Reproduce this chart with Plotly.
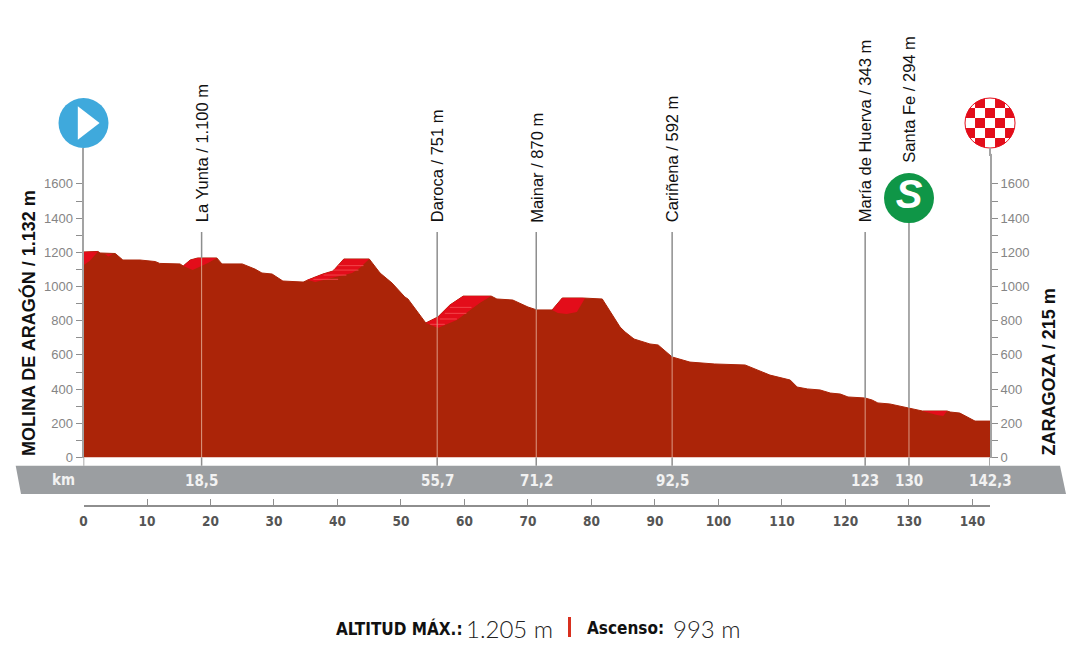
import plotly.graph_objects as go

# profile
profile_km = [0, 2.3, 2.6, 5.0, 6.2, 8.9, 11.3, 12.0, 15.2, 15.7, 16.8, 18.0, 21.0, 21.8, 25.0, 27.0, 28.1, 29.7,
              31.4, 34.6, 36.1, 37.7, 39.3, 41.0, 45.0, 46.7, 48.6, 50.6, 51.1, 53.9, 55.8, 57.7, 59.8, 64.2, 65.1,
              67.6, 70.0, 71.4, 73.8, 75.4, 78.5, 81.7, 84.5, 85.3, 86.7, 89.2, 90.5, 91.9, 92.7, 95.5, 99.4, 104.2,
              105.7, 108.1, 111.3, 112.4, 114.0, 116.0, 117.6, 119.2, 120.4, 123.1, 124.2, 125.1, 127.0, 128.6,
              130.2, 132.1, 136.0, 136.5, 138.0, 139.1, 140.4, 142.76]
profile_elev = [1202, 1205, 1196, 1193, 1155, 1155, 1146, 1135, 1132, 1120, 1155, 1167, 1167, 1132, 1132, 1102, 1079,
                1073, 1032, 1026, 1050, 1073, 1091, 1161, 1161, 1079, 1020, 939, 927, 787, 822, 892, 944, 944, 927,
                921, 880, 863, 863, 933, 933, 927, 763, 734, 693, 664, 658, 617, 588, 558, 547, 541, 518, 482, 453,
                412, 401, 395, 377, 371, 354, 348, 336, 319, 313, 301, 289, 272, 272, 266, 260, 237, 213, 213]

# bright red climb patches
climbs_km = [
    [0, 2.3, 1.0, 0],
    [3.4, 4.6, 3.9],
    [15.7, 16.8, 18.0, 21.0, 19.6, 17.2],
    [35.2, 36.1, 37.7, 39.3, 41.0, 45.0, 43.5, 42.3, 36.5],
    [53.9, 55.8, 57.7, 59.8, 64.2, 62.4, 58.8, 55.8],
    [73.8, 75.4, 79.0, 77.7, 76.1, 74.7],
    [132.1, 136.0, 135.4, 134.4],
]
climbs_elev = [
    [1202, 1205, 1150, 1125],
    [1190, 1190, 1175],
    [1120, 1155, 1167, 1167, 1137, 1096],
    [1040, 1050, 1073, 1091, 1161, 1161, 1108, 1079, 1026],
    [787, 822, 892, 944, 944, 904, 804, 757],
    [863, 933, 933, 851, 839, 845],
    [272, 272, 243, 249],
]
stripe_km = [40.1, 44.1, None, 39.3, 43.3, None, 37.8, 41.4, None, 36.2, 40.1, None,
             57.7, 61.1, None, 56.9, 60.3, None, 56.1, 58.8, None, 54.6, 56.9]
stripe_elev = [1122, 1122, None, 1096, 1096, None, 1067, 1067, None, 1042, 1042, None,
               878, 878, None, 843, 843, None, 810, 810, None, 779, 779]

# intermediate points
pass_km = [18.6, 55.7, 71.3, 92.7, 123.1, 130.0]
pass_elev = [1167, 822, 863, 588, 348, 289]
pass_top = [1319, 1319, 1319, 1319, 1319, 1500]
pass_names = ["La Yunta / 1.100 m", "Daroca / 751 m", "Mainar / 870 m", "Cariñena / 592 m",
              "María de Huerva / 343 m", "Santa Fe / 294 m"]
name_elev = [1362, 1362, 1362, 1362, 1362, 1715]

finish_km = 142.76
band_km = [18.6, 55.7, 71.3, 92.7, 123.1, 130.0, finish_km]
band_labels = ["18,5", "55,7", "71,2", "92,5", "123", "130", "142,3"]

y_ticks = [0, 200, 400, 600, 800, 1000, 1200, 1400, 1600]
y_minor = [100, 300, 500, 700, 900, 1100, 1300, 1500]
km_ticks = [0, 10, 20, 30, 40, 50, 60, 70, 80, 90, 100, 110, 120, 130, 140, finish_km]
km_labels = ["0", "10", "20", "30", "40", "50", "60", "70", "80", "90", "100", "110", "120", "130", "140", ""]

icon_elev = 1956
sprint_elev = 1517

W, H = 1080, 656
X0, Y0 = 83.5, 457.5   # pixel of km 0 / 0 m
KM_PX, M_PX = 6.35, 0.171
FILL = "#ab2408"
RED = "#e30d1a"
GREY = "#8e8e8e"
NARROW = "DejaVu Sans Condensed, Liberation Sans"


def py(y):
    # pixel from the top to paper fraction
    return (H - y) / H


fig = go.Figure()

fig.add_trace(go.Scatter(x=profile_km, y=profile_elev, mode="lines", fill="tozeroy", fillcolor=FILL,
                         line=dict(color=FILL, width=1), hoverinfo="skip"))

for ckm, celev in zip(climbs_km, climbs_elev):
    fig.add_trace(go.Scatter(x=ckm, y=celev, mode="lines", fill="toself", fillcolor=RED,
                             line=dict(color=RED, width=0), hoverinfo="skip"))
fig.add_trace(go.Scatter(x=stripe_km, y=stripe_elev, mode="lines", line=dict(color="#f2444a", width=1),
                         hoverinfo="skip"))

for km, elev, top in zip(pass_km, pass_elev, pass_top):
    fig.add_trace(go.Scatter(x=[km, km], y=[elev, top], mode="lines", line=dict(color=GREY, width=1.5),
                             hoverinfo="skip"))
    fig.add_trace(go.Scatter(x=[km, km], y=[0, elev], mode="lines", line=dict(color="#dc9a84", width=1),
                             hoverinfo="skip"))

# icons sit on a full page subplot, markers outside an axis range get dropped
icon = dict(xaxis="x3", yaxis="y3", hoverinfo="skip")
fig.add_trace(go.Scatter(x=[0], y=[icon_elev], mode="markers",
                         marker=dict(symbol="circle", size=50, color="#3fa9dc"), **icon))
fig.add_trace(go.Scatter(x=[0.25], y=[icon_elev], mode="markers",
                         marker=dict(symbol="triangle-right", size=29, color="white"), **icon))
fig.add_trace(go.Scatter(x=[pass_km[5]], y=[sprint_elev], mode="markers+text",
                         marker=dict(symbol="circle", size=50, color="#0f9647"),
                         text=["S"], textposition="middle center",
                         textfont=dict(family="Liberation Sans", size=40, color="white", style="italic", weight=700),
                         **icon))

# finish icon, checker cut round with a white ring
cell_km = 10 / KM_PX
cell_elev = 10 / M_PX
check_x, check_y = [], []
for i in range(-2, 3):
    for j in range(-2, 3):
        if (i + j) % 2:
            check_x.append(finish_km + i * cell_km)
            check_y.append(icon_elev + j * cell_elev)
fig.add_trace(go.Scatter(x=check_x, y=check_y, mode="markers",
                         marker=dict(symbol="square", size=10, color=RED), **icon))
fig.add_trace(go.Scatter(x=[finish_km], y=[icon_elev], mode="markers",
                         marker=dict(symbol="circle-open", size=56, color="white", line=dict(color="white", width=6)),
                         **icon))
fig.add_trace(go.Scatter(x=[finish_km], y=[icon_elev], mode="markers",
                         marker=dict(symbol="circle-open", size=50, color=RED, line=dict(color=RED, width=1)),
                         **icon))

# only here so the extra axes get drawn
fig.add_trace(go.Scatter(x=[0], y=[0], xaxis="x2", yaxis="y", mode="markers", opacity=0, hoverinfo="skip"))
fig.add_trace(go.Scatter(x=[0], y=[0], xaxis="x", yaxis="y2", mode="markers", opacity=0, hoverinfo="skip"))

shapes = [dict(type="path", xref="paper", yref="paper", line=dict(width=0), fillcolor="#9b9ea1", layer="below",
               path=f"M {15.7 / W} {py(465.7)} L {1060 / W} {py(465.7)} L {1066 / W} {py(494)} L {21 / W} {py(494)} Z")]
for km in [0] + pass_km + [finish_km]:
    shapes.append(dict(type="line", xref="x", yref="paper", x0=km, x1=km, y0=py(457.5), y1=py(465.7),
                       line=dict(color=GREY, width=1.5)))
# the white ring covers the top of the finish axis line
shapes.append(dict(type="line", xref="paper", yref="paper", x0=990 / W, x1=990 / W, y0=py(148), y1=py(156),
                   line=dict(color="#a3a3a3", width=2)))
shapes.append(dict(type="line", xref="paper", yref="paper", x0=569.5 / W, x1=569.5 / W, y0=py(617), y1=py(637),
                   line=dict(color="#d8301f", width=3)))

annotations = []
for km, name, elev in zip(pass_km, pass_names, name_elev):
    annotations.append(dict(x=km, y=elev, xref="x", yref="y", text=name, textangle=-90, showarrow=False,
                            yanchor="bottom", xanchor="center",
                            font=dict(family="Liberation Sans", size=16.5, color="#111111")))
for km, label in zip(band_km, band_labels):
    annotations.append(dict(x=km, y=py(481), xref="x", yref="paper", text=f"<b>{label}</b>", showarrow=False,
                            xanchor="center", yanchor="middle",
                            font=dict(family=NARROW, size=15, color="#f2f2f2")))
annotations.append(dict(x=63 / W, y=py(480), xref="paper", yref="paper", text="<b>km</b>", showarrow=False,
                        xanchor="center", yanchor="middle",
                        font=dict(family=NARROW, size=15, color="#f2f2f2")))
annotations.append(dict(x=28 / W, y=py(458), xref="paper", yref="paper", text="<b>MOLINA DE ARAGÓN / 1.132 m</b>",
                        textangle=-90, showarrow=False, yanchor="bottom", xanchor="center",
                        font=dict(family="Liberation Sans", size=18, color="#111111")))
annotations.append(dict(x=1048 / W, y=py(458), xref="paper", yref="paper", text="<b>ZARAGOZA / 215 m</b>",
                        textangle=-90, showarrow=False, yanchor="bottom", xanchor="center",
                        font=dict(family="Liberation Sans", size=18, color="#111111")))
for x, text, anchor, font in [
    (334, "<b>ALTITUD MÁX.:</b>", "left", dict(family=NARROW, size=17, color="#111111")),
    (555, "1.205 m", "right", dict(family="Lato", size=24, color="#222222", weight=300)),
    (585, "<b>Ascenso:</b>", "left", dict(family=NARROW, size=17, color="#111111")),
    (743, "993 m", "right", dict(family="Lato", size=24, color="#222222", weight=300)),
]:
    annotations.append(dict(x=x / W, y=py(628), xref="paper", yref="paper", text=text, showarrow=False,
                            xanchor=anchor, yanchor="middle", font=font))

x_domain = [X0 / W, 990 / W]
y_domain = [py(Y0), py(148)]
y_range = [0, 1810]
y_common = dict(domain=y_domain, range=y_range, tickvals=y_ticks, ticks="outside", ticklen=6, tickcolor=GREY,
                showgrid=False, zeroline=False, showline=True, linecolor="#a3a3a3", linewidth=2, automargin=False,
                tickfont=dict(family="Liberation Sans", size=13, color="#858585"),
                minor=dict(tickvals=y_minor, ticks="outside", ticklen=6, tickcolor=GREY))

fig.update_layout(
    width=W, height=H, margin=dict(l=0, r=0, t=0, b=0), showlegend=False,
    paper_bgcolor="white", plot_bgcolor="rgba(0,0,0,0)",
    xaxis=dict(domain=x_domain, range=[0, finish_km], visible=False, automargin=False),
    xaxis2=dict(domain=x_domain, range=[0, finish_km], overlaying="x", anchor="free", position=py(505.7),
                side="bottom", tickvals=km_ticks, ticktext=km_labels, ticks="inside", ticklen=6, tickcolor=GREY,
                showgrid=False, zeroline=False, showline=True, linecolor=GREY, linewidth=1.5, automargin=False,
                ticklabelstandoff=3,
                tickfont=dict(family=NARROW, size=13.5, color="#555555", weight=700), tickangle=0),
    xaxis3=dict(domain=[0, 1], range=[-X0 / KM_PX, (W - X0) / KM_PX], visible=False, automargin=False, anchor="y3"),
    yaxis=dict(side="left", **y_common),
    yaxis2=dict(side="right", overlaying="y", anchor="x", **y_common),
    yaxis3=dict(domain=[0, 1], range=[-(H - Y0) / M_PX, Y0 / M_PX], visible=False, automargin=False, anchor="x3"),
    shapes=shapes,
    annotations=annotations,
)

fig.write_html("out.html", config={"displayModeBar": False}, post_script="document.body.style.margin='0';")
